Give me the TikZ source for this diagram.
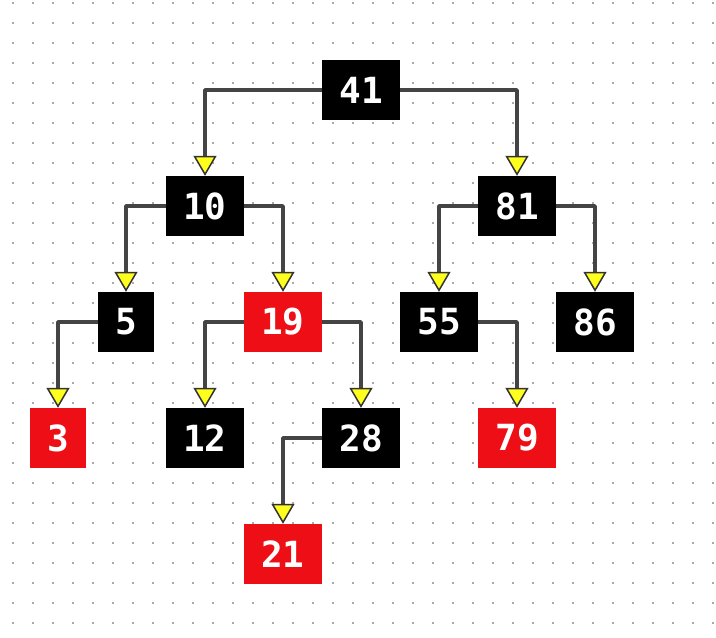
\documentclass[tikz,border=0pt]{standalone}
\usepackage{fontspec}
\setmonofont{DejaVu Sans Mono}
\usetikzlibrary{arrows.meta}
\definecolor{nodered}{HTML}{EE0E16}
\definecolor{linegray}{HTML}{444444}
\definecolor{tipgray}{HTML}{333333}
\definecolor{dotgray}{HTML}{AAAAAA}
\definecolor{tipyellow}{HTML}{FFFF1E}
\begin{document}
\begin{tikzpicture}[x=1pt,y=-1pt,
  treenode/.style={minimum height=60pt,inner sep=0pt,text=white,
    font=\fontsize{36}{40}\selectfont\ttfamily\bfseries},
  onedigit/.style={treenode,minimum width=56pt},
  twodigit/.style={treenode,minimum width=78pt},
  blacknode/.style={fill=black},
  rednode/.style={fill=nodered},
  edge/.style={draw=linegray,line width=3.6pt,line join=round,
    -{Triangle[width=23pt,length=20pt,line width=1.5pt,color=tipgray,fill=tipyellow]}}
]
\useasboundingbox (0,0) rectangle (716,638);
\fill[white] (0,0) rectangle (716,638);
\foreach \i in {0,...,35}{
  \foreach \j in {0,...,31}{
    \fill[dotgray] ({13+20*\i-1},{3+20*\j-1}) rectangle ++(2,2);
  }
}
\node[twodigit,blacknode] (n41) at (361,90) {41};
\node[twodigit,blacknode] (n10) at (205,206) {10};
\node[twodigit,blacknode] (n81) at (517,206) {81};
\node[onedigit,blacknode] (n5) at (126,322) {5};
\node[twodigit,rednode] (n19) at (283,322) {19};
\node[twodigit,blacknode] (n55) at (439,322) {55};
\node[twodigit,blacknode] (n86) at (595,322) {86};
\node[onedigit,rednode] (n3) at (58,438) {3};
\node[twodigit,blacknode] (n12) at (205,438) {12};
\node[twodigit,blacknode] (n28) at (361,438) {28};
\node[twodigit,rednode] (n79) at (517,438) {79};
\node[twodigit,rednode] (n21) at (283,554) {21};

\draw[edge] (n41.west) -| (n10.north);
\draw[edge] (n41.east) -| (n81.north);
\draw[edge] (n10.west) -| (n5.north);
\draw[edge] (n10.east) -| (n19.north);
\draw[edge] (n81.west) -| (n55.north);
\draw[edge] (n81.east) -| (n86.north);
\draw[edge] (n5.west) -| (n3.north);
\draw[edge] (n19.west) -| (n12.north);
\draw[edge] (n19.east) -| (n28.north);
\draw[edge] (n55.east) -| (n79.north);
\draw[edge] (n28.west) -| (n21.north);
\end{tikzpicture}
\end{document}
